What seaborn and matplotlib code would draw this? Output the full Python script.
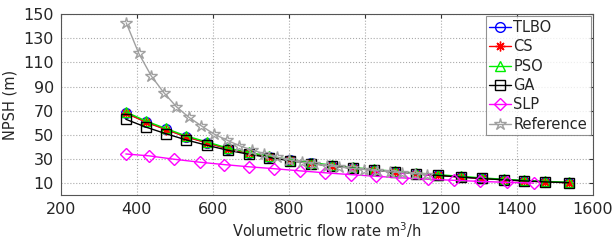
import matplotlib
matplotlib.use("Agg")
import matplotlib.pyplot as plt
import seaborn as sns
import pandas as pd

# ---- data ----
q_alg = [371, 423, 476, 530, 584, 639, 694, 748, 803, 858, 913, 968, 1023, 1078,
         1135, 1193, 1252, 1308, 1365, 1420, 1475, 1536]
tlbo = [68.3, 60.9, 54.6, 48.5, 43.6, 38.6, 35.0, 31.9, 29.1, 26.6, 24.5, 22.6, 20.9,
        19.3, 17.9, 16.6, 15.2, 14.0, 12.9, 12.0, 11.2, 10.5]
cs = [68.0, 60.6, 54.4, 48.3, 43.4, 38.5, 34.9, 31.8, 29.0, 26.5, 24.4, 22.5, 20.8,
      19.2, 17.8, 16.5, 15.1, 13.9, 12.8, 11.9, 11.1, 10.4]
pso = [69.0, 61.6, 55.3, 49.1, 44.2, 39.1, 35.5, 32.4, 29.6, 27.1, 25.0, 23.1, 21.4,
       19.8, 18.4, 17.1, 15.7, 14.4, 13.3, 12.3, 11.5, 10.8]
ga = [62.9, 56.5, 51.0, 45.8, 41.4, 37.3, 34.0, 31.2, 28.6, 26.3, 24.3, 22.4, 20.8,
      19.2, 17.8, 16.5, 15.1, 13.9, 12.8, 11.9, 11.1, 10.4]
q_slp = [371, 433, 499, 565, 630, 694, 762, 830, 896, 963, 1030, 1098, 1166, 1234,
         1304, 1373, 1444]
slp = [34.2, 32.6, 29.8, 27.4, 25.4, 23.6, 22.0, 20.2, 18.6, 17.1, 15.7, 14.4, 13.3,
       12.4, 11.5, 10.7, 10.1]
q_ref = [372, 405, 438, 471, 504, 537, 570, 603, 636, 669, 702, 735, 768, 801, 834,
         867, 900, 933, 966, 999, 1032, 1065, 1098, 1131, 1164]
ref = [142.7, 117.4, 98.7, 84.9, 73.3, 64.5, 57.4, 50.7, 45.8, 41.1, 37.6, 34.4, 31.6,
       29.2, 27.4, 25.9, 24.6, 23.4, 22.3, 21.3, 20.4, 19.5, 18.7, 17.9, 17.2]

x_ticks = [200, 400, 600, 800, 1000, 1200, 1400, 1600]
y_ticks = [10, 30, 50, 70, 90, 110, 130, 150]

sns.set_style("white")
plt.rcParams["font.family"] = ["DejaVu Sans"]

fig = plt.figure(figsize=(6.15, 2.42), dpi=100)
ax = fig.add_axes([0.099, 0.193, 0.865, 0.749])

series = [
    ("TLBO", q_alg, tlbo, "#0000ff", "o", 7),
    ("CS", q_alg, cs, "#ff0000", (8, 2, 0), 7),
    ("PSO", q_alg, pso, "#00ee00", "^", 7),
    ("GA", q_alg, ga, "#000000", "s", 6.5),
    ("SLP", q_slp, slp, "#ff00ff", "D", 6.5),
    ("Reference", q_ref, ref, "#a0a0a0", "*", 9),
]
for name, xs, ys, col, mk, ms in series:
    df = pd.DataFrame({"x": xs, "y": ys})
    sns.lineplot(data=df, x="x", y="y", ax=ax, color=col, marker=mk, markersize=ms,
                 markerfacecolor="none", markeredgecolor=col, markeredgewidth=1.0,
                 linewidth=1.0, label=name, sort=False)

ax.set_xlim(200, 1600)
ax.set_ylim(0, 150)
ax.set_xticks(x_ticks)
ax.set_yticks(y_ticks)
ax.tick_params(direction="in", length=3, labelsize=11.5, top=True, right=True,
               color="#333333", pad=5)
ax.grid(True, linestyle=":", color="#aaaaaa", linewidth=0.8)
for s in ax.spines.values():
    s.set_color("#555555")
    s.set_linewidth(0.8)
ax.set_xlabel("Volumetric flow rate m$^3$/h", fontsize=10.5, labelpad=2)
ax.set_ylabel("NPSH (m)", fontsize=10.5, labelpad=4)

leg = ax.legend(loc="upper right", fontsize=10.5, frameon=True, fancybox=False,
                edgecolor="#777777", handlelength=1.5, handletextpad=0.15,
                labelspacing=0.3, borderpad=0.25, borderaxespad=0.15)
leg.get_frame().set_linewidth(0.8)

fig.savefig("out.png", dpi=100)
